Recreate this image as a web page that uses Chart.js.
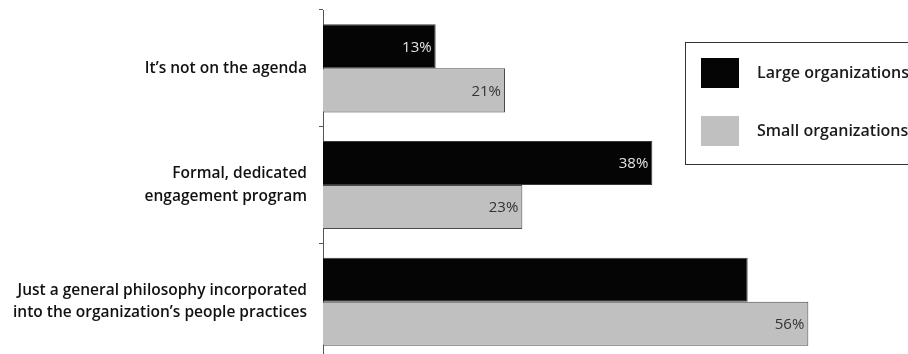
<!DOCTYPE html>
<html>
<head>
<meta charset="utf-8">
<script src="https://cdn.jsdelivr.net/npm/chart.js@4.4.1/dist/chart.umd.min.js"></script>
<style>
  html, body { margin: 0; padding: 0; background: #fff; overflow: hidden; }
  #wrap { position: relative; width: 908px; height: 362px; }
</style>
</head>
<body>
<div id="wrap"><canvas id="chart"></canvas></div>
<script>
// Survey answers and the share of organizations giving each one
const categories = [
  "It\u2019s not on the agenda",
  ["Formal, dedicated", "engagement program"],
  ["Just a general philosophy incorporated", "into the organization\u2019s people practices"]
];
const largeOrgs = [13, 38, 49];
const smallOrgs = [21, 23, 56];
// Which bars carry a printed value
const largeShown = [true, true, false];
const smallShown = [true, true, true];
const seriesNames = ["Large organizations", "Small organizations"];

const FONT = "'Open Sans', 'DejaVu Sans', sans-serif";

// Percent labels drawn just inside the end of each bar
const valueLabels = {
  id: "valueLabels",
  afterDatasetsDraw(chart) {
    const ctx = chart.ctx;
    const shown = [largeShown, smallShown];
    const colors = ["#e4e4e4", "#333333"];
    ctx.save();
    ctx.font = "15px " + FONT;
    ctx.textAlign = "right";
    ctx.textBaseline = "middle";
    chart.data.datasets.forEach((ds, di) => {
      const meta = chart.getDatasetMeta(di);
      meta.data.forEach((bar, i) => {
        if (!shown[di][i]) return;
        ctx.fillStyle = colors[di];
        ctx.fillText(ds.data[i] + "%", bar.x - 4, bar.y + 1);
      });
    });
    ctx.restore();
  }
};

// Boxed legend in the upper right
const boxLegend = {
  id: "boxLegend",
  afterDraw(chart) {
    const ctx = chart.ctx;
    ctx.save();
    ctx.fillStyle = "#ffffff";
    ctx.fillRect(685, 42, 240, 122);
    ctx.strokeStyle = "#333333";
    ctx.lineWidth = 1;
    ctx.strokeRect(685.5, 42.5, 240, 122);
    ctx.font = "600 16px " + FONT;
    ctx.textAlign = "left";
    ctx.textBaseline = "middle";
    chart.data.datasets.forEach((ds, di) => {
      const top = di === 0 ? 58 : 116;
      ctx.fillStyle = ds.backgroundColor;
      ctx.fillRect(701, top, 38, 30);
      ctx.fillStyle = "#1a1a1a";
      ctx.fillText(ds.label, 757, top + 15);
    });
    ctx.restore();
  }
};

new Chart(document.getElementById("chart"), {
  type: "bar",
  data: {
    labels: categories,
    datasets: [
      {
        label: seriesNames[0],
        data: largeOrgs,
        backgroundColor: "#050505",
        borderColor: "#3a3a3a",
        borderWidth: 1
      },
      {
        label: seriesNames[1],
        data: smallOrgs,
        backgroundColor: "#c0c0c0",
        borderColor: "#4a4a4a",
        borderWidth: 1
      }
    ]
  },
  options: {
    indexAxis: "y",
    responsive: true,
    maintainAspectRatio: false,
    animation: false,
    layout: { padding: { top: 10, bottom: 2, left: 0, right: 13 } },
    datasets: { bar: { categoryPercentage: 0.755, barPercentage: 1.0 } },
    plugins: {
      legend: { display: false },
      tooltip: { enabled: false }
    },
    scales: {
      x: {
        display: false,
        min: 0,
        max: 66
      },
      y: {
        afterFit(scale) {
          scale.width = 323;
          scale.paddingTop = 0;
          scale.paddingBottom = 0;
        },
        border: { display: true, color: "#555555", width: 1 },
        grid: {
          offset: true,
          drawOnChartArea: false,
          drawTicks: true,
          tickLength: 4,
          color: "#555555"
        },
        ticks: {
          padding: 12,
          color: "#111111",
          font: { family: FONT, size: 15.5, weight: "600", lineHeight: 1.45 }
        }
      }
    }
  },
  plugins: [valueLabels, boxLegend]
});
</script>
</body>
</html>
